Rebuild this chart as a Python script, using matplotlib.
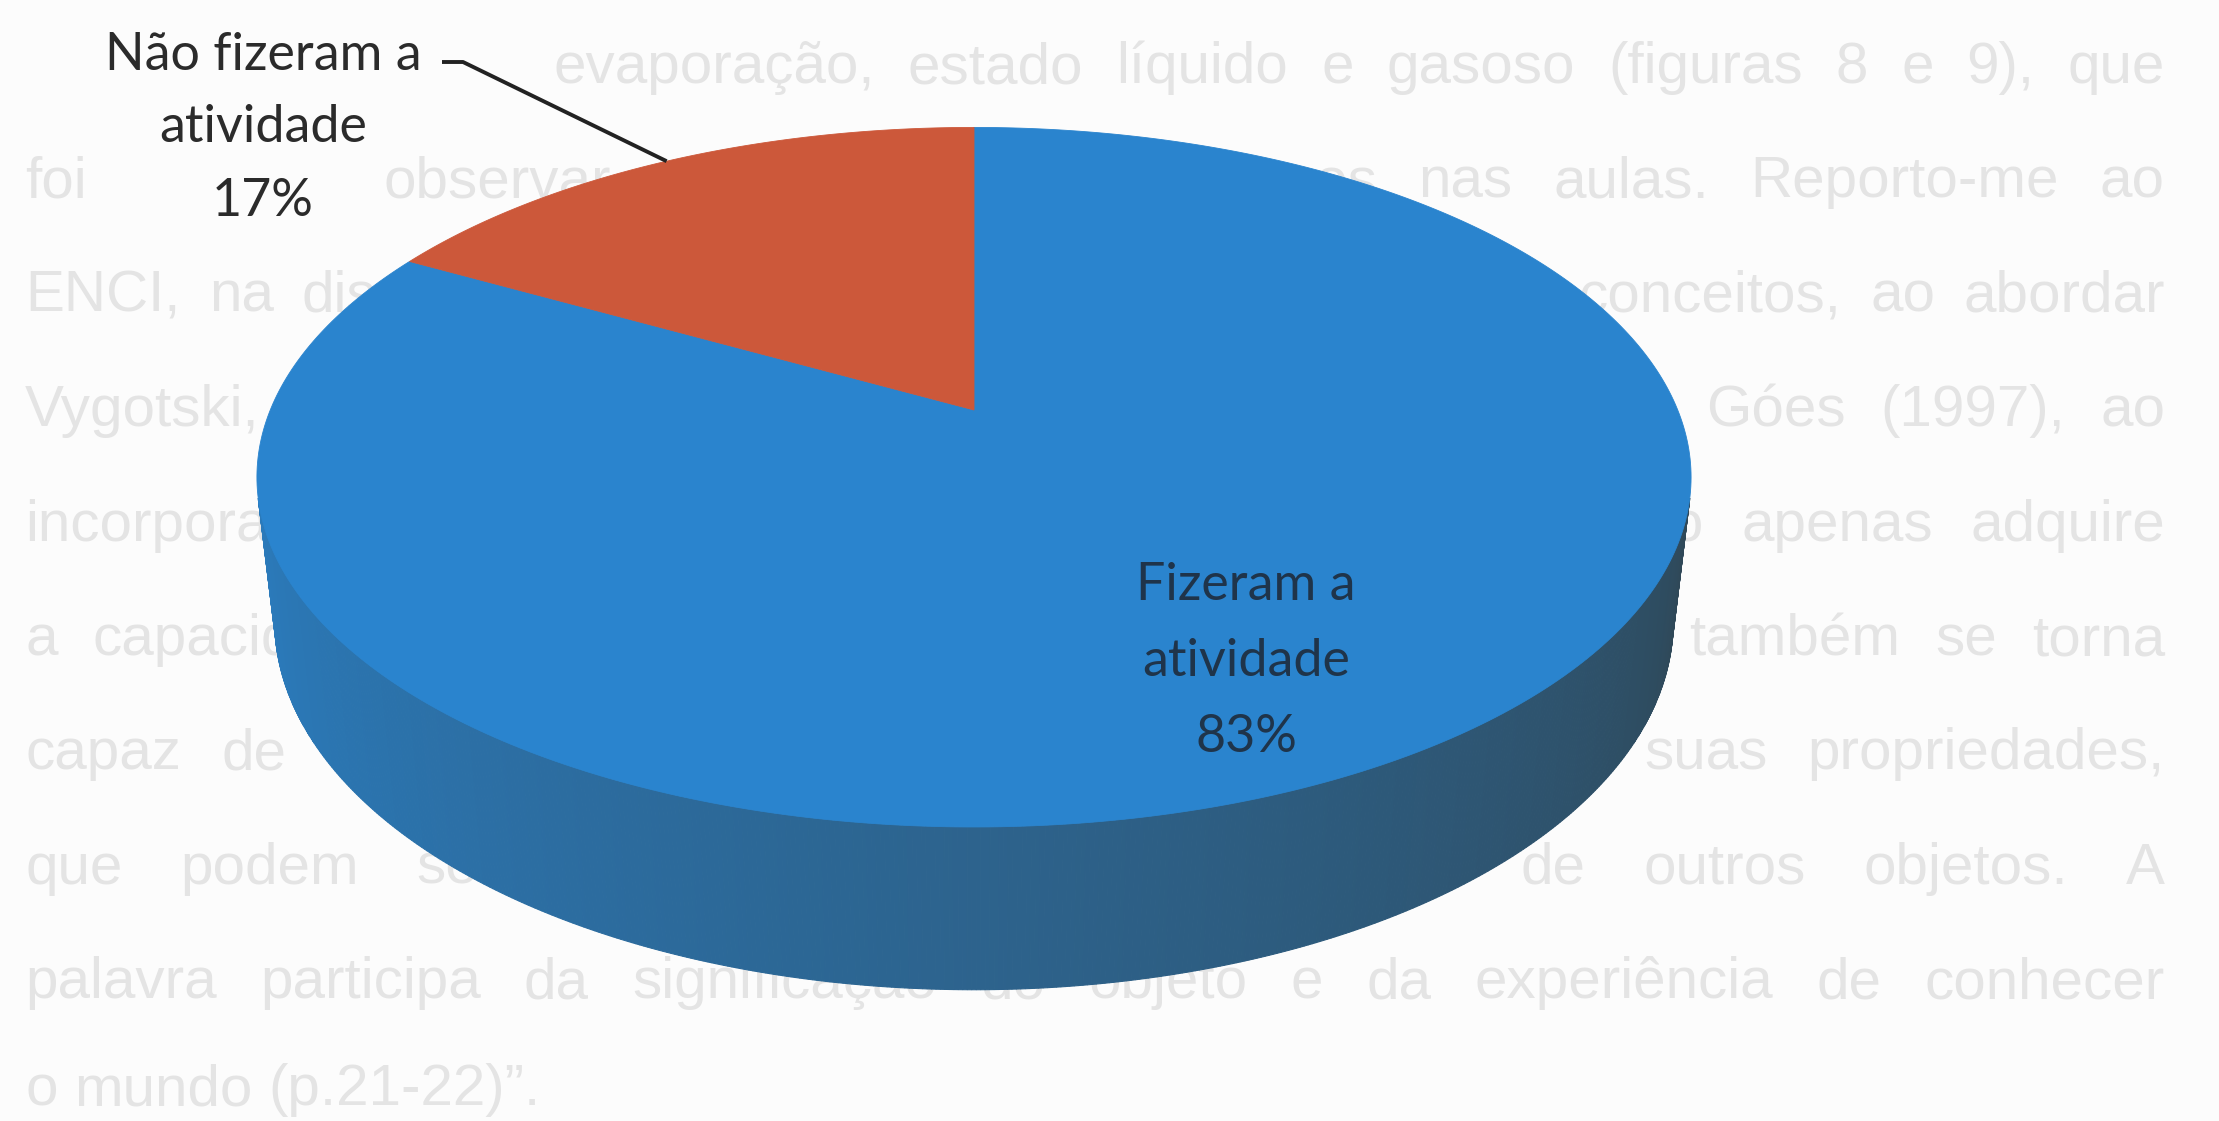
import numpy as np
import matplotlib
matplotlib.use('Agg')
import matplotlib.pyplot as plt
from matplotlib.colors import to_rgb
from matplotlib.path import Path

# ---------------- data ----------------
categories = ['Fizeram a atividade', 'Não fizeram a atividade']
values = [83, 17]
label_lines = [['Fizeram a', 'atividade', '83%'],
               ['Não fizeram a', 'atividade', '17%']]
slice_colors = ['#2a84ce', '#cc583a']

# faint text of the scanned page behind the chart
bg_lines = [
    "pela fusão e pela evaporação, estado líquido e gasoso (figuras 8 e 9), que",
    "foi possível observar e discutir com os alunos nas aulas. Reporto-me ao",
    "ENCI, na discussão sobre o processo de formação dos conceitos, ao abordar",
    "Vygotski, e também ao que afirmam os autores Smolka e Góes (1997), ao",
    "incorporar a linguagem ao seu pensamento, a criança não apenas adquire",
    "a capacidade de nomear os objetos do mundo real, mas também se torna",
    "capaz de analisá-los, de compará-los e de abstrair as suas propriedades,",
    "que podem ser generalizadas para o conjunto de outros objetos. A",
    "palavra participa da significação do objeto e da experiência de conhecer",
    "o mundo (p.21-22)”.",
]

# ---------------- layout ----------------
W, H = 2219, 1121
CX, CY = 974, 410          # screen position of pie centre
K = 3216                   # projection scale
DIST = 4.57                # camera distance (pie radius = 1)
ELEV = np.deg2rad(28.6)    # camera elevation
THICK = 0.236              # pie thickness
SIDE_DARK = np.array(to_rgb('#2f4552'))

fig = plt.figure(figsize=(W / 100, H / 100), dpi=100)
fig.patch.set_facecolor('#fcfcfc')
ax = fig.add_axes([0, 0, 1, 1])
ax.set_xlim(0, W)
ax.set_ylim(H, 0)
ax.axis('off')
renderer = fig.canvas.get_renderer()


def proj(theta, r=1.0, z=0.0):
    c, s = np.cos(ELEV), np.sin(ELEV)
    X = r * np.cos(theta)
    Y = r * np.sin(theta)
    d = DIST + Y * c - z * s
    sx = X / d
    sy = (Y * s + z * c) / d
    return CX + K * sx, CY - K * sy


# ---------------- pie geometry ----------------
total = float(sum(values))
cum_deg = np.cumsum(values) / total * 360.0
bounds = 90.0 - np.concatenate([[0.0], cum_deg])      # clockwise from 12 o'clock

c = np.cos(ELEV)
a_sil = np.degrees(np.arcsin(1.0 / (DIST * c)))
th_l, th_r = -180.0 + a_sil, -a_sil

# outline of the whole pie (used to hide page text beneath it)
back = np.radians(np.linspace(th_r, th_l + 360.0, 300))
front = np.radians(np.linspace(th_l, th_r, 300))
bx, by = proj(back)
fx, fy = proj(front, z=-THICK)
pie_path = Path(np.column_stack([np.concatenate([bx, fx]),
                                 np.concatenate([by, fy])]))

# side wall
side_t = np.linspace(th_l, th_r, 500)
for a, b in zip(side_t[:-1], side_t[1:]):
    m = 0.5 * (a + b)
    p = (90.0 - m) % 360.0
    idx = int(np.searchsorted(cum_deg, p))
    base = np.array(to_rgb(slice_colors[idx]))
    tt = (m - th_l) / (th_r - th_l)
    f = 0.15 + 0.8 * tt ** 1.1
    col = (1 - f) * base + f * SIDE_DARK
    ra, rb = np.radians(a), np.radians(b)
    x1, y1 = proj(ra, z=0.0)
    x2, y2 = proj(rb, z=0.0)
    x3, y3 = proj(rb, z=-THICK)
    x4, y4 = proj(ra, z=-THICK)
    ax.fill([x1, x2, x3, x4], [y1, y2, y3, y4], color=col, lw=0.8,
            ec=col, zorder=2)

# top face
for i in range(len(values)):
    arc = np.radians(np.linspace(bounds[i], bounds[i + 1], 400))
    xs, ys = proj(arc)
    xs = np.concatenate([[CX], xs])
    ys = np.concatenate([[CY], ys])
    ax.fill(xs, ys, color=slice_colors[i], lw=0.6, ec=slice_colors[i], zorder=3)

# ---------------- labels ----------------
lab_font = ['Lato', 'DejaVu Sans']
probe = ax.text(0, 0, label_lines[0][0], fontsize=36, family=lab_font)
lab_size = 36 * 220.0 / probe.get_window_extent(renderer).width
probe.remove()

label_texts = []
# inside label (Fizeram a atividade)
in_x, in_y, in_gap = 1246, 662, 76
for j, s in enumerate(label_lines[0]):
    label_texts.append(ax.text(in_x, in_y + (j - 1) * in_gap, s, fontsize=lab_size,
                               family=lab_font, color='#1f344a', ha='center',
                               va='center', zorder=5))

# outside label (Não fizeram a atividade)
out_x, out_y, out_gap = 263, 128, 73
for j, s in enumerate(label_lines[1]):
    label_texts.append(ax.text(out_x, out_y + (j - 1) * out_gap, s, fontsize=lab_size,
                               family=lab_font, color='#2b2b2b', ha='center',
                               va='center', zorder=5))

# leader line to the middle of the red slice's rim
mid = np.radians(0.5 * (bounds[1] + bounds[2]))
ex, ey = proj(mid)
ax.plot([442, 463, ex], [62, 62, ey], color='#222222', lw=2.8,
        solid_capstyle='butt', zorder=5)

label_boxes = [t.get_window_extent(renderer).expanded(1.08, 1.25) for t in label_texts]

# ---------------- background page text ----------------
bg_x0, bg_x1 = 25, 2165
bg_y0, bg_dy = 68, 114.4
bg_color = '#e4e4e4'
bg_font = 'Liberation Sans'
bg_size = 42
to_data = ax.transData.inverted()
for i, line in enumerate(bg_lines):
    y = bg_y0 + bg_dy * i if i < len(bg_lines) - 1 else 1090
    words = line.split()
    size = bg_size
    texts = [ax.text(0, y, w, fontsize=size, family=bg_font, color=bg_color,
                     va='center', ha='left', zorder=1) for w in words]
    widths = [t.get_window_extent(renderer).width for t in texts]
    sp = ax.text(0, 0, 'a a', fontsize=size, family=bg_font)
    sp2 = ax.text(0, 0, 'aa', fontsize=size, family=bg_font)
    space = sp.get_window_extent(renderer).width - sp2.get_window_extent(renderer).width
    sp.remove(); sp2.remove()
    last = (i == len(bg_lines) - 1)
    total_w = sum(widths)
    avail = bg_x1 - bg_x0
    if not last and total_w + space * 0.6 * (len(words) - 1) > avail:
        f = avail / (total_w + space * 0.6 * (len(words) - 1))
        size = size * f
        for t in texts:
            t.set_fontsize(size)
        widths = [w * f for w in widths]
        space *= f
        total_w = sum(widths)
    gap = space if last or len(words) < 2 else (avail - total_w) / (len(words) - 1)
    x = bg_x0
    for t, w in zip(texts, widths):
        t.set_x(x)
        x += w + gap
    # drop words fully hidden by the pie or lying under a data label
    for t in texts:
        bb = t.get_window_extent(renderer)
        corners = to_data.transform(bb.corners())
        hidden = pie_path.contains_points(corners).all()
        under_label = any(bb.overlaps(lb) for lb in label_boxes)
        if hidden or under_label:
            t.remove()

fig.savefig('out.png', dpi=100, facecolor=fig.get_facecolor())
